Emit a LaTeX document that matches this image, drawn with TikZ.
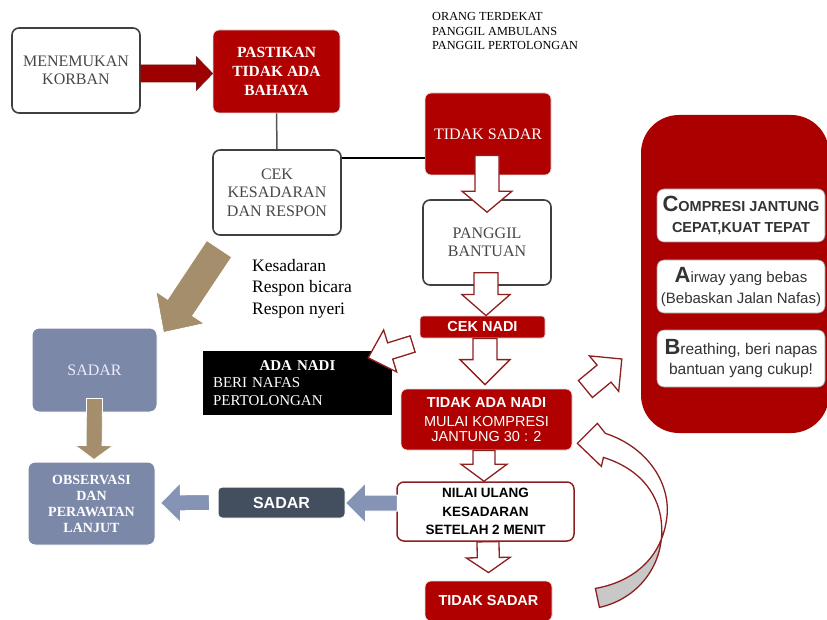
\documentclass[tikz,border=0pt]{standalone}
\usepackage{fontspec}
\setmainfont{Liberation Serif}
\setsansfont{Liberation Sans}
\usetikzlibrary{calc}
\definecolor{cred}{HTML}{B00000}
\definecolor{cpanel}{HTML}{AA0000}
\definecolor{cdred}{HTML}{8E1F1F}
\definecolor{ctext}{HTML}{474747}
\definecolor{cgrayb}{HTML}{404040}
\definecolor{ctan}{HTML}{A48E6B}
\definecolor{cblue}{HTML}{7B88A8}
\definecolor{cbluearr}{HTML}{8594B4}
\definecolor{cdark}{HTML}{434E5E}
\definecolor{ccurve}{HTML}{C8C8C8}
\newcommand\blkarrow[6]{%
  \coordinate (bkC) at ($(#3)!#6!(#2)$);
  \path[#1] ($(#2)!#4!90:(#3)$) -- ($(bkC)!#4!90:(#3)$) -- ($(bkC)!#5!90:(#3)$) -- (#3)
    -- ($(bkC)!#5!-90:(#3)$) -- ($(bkC)!#4!-90:(#3)$) -- ($(#2)!#4!-90:(#3)$) -- cycle;
}
\begin{document}
\begin{tikzpicture}[x=1pt,y=-1pt,
  wbox/.style={draw=cgrayb, line width=1.6pt, fill=white, rounded corners=7pt, align=center,
    text=ctext, font=\fontsize{16}{18.5}\selectfont, inner sep=0pt},
  rbox/.style={fill=cred, draw=black!12, line width=0.8pt, rounded corners=6pt, align=center,
    text=white, inner sep=0pt},
  bbox/.style={fill=cblue, draw=white, line width=1pt, rounded corners=7pt, align=center,
    text=white, inner sep=0pt},
  cabbox/.style={fill=white, draw=black!40, line width=0.6pt, rounded corners=7pt, align=center,
    text=black!80, inner sep=0pt, minimum width=168pt},
  hollow/.style={fill=white, draw=cdred, line width=1.3pt, line join=miter},
  tanarr/.style={fill=ctan, draw=white, line width=0.8pt},
  bluearr/.style={fill=cbluearr, draw=white, line width=1pt},
  redarr/.style={fill=cred!90!black, draw=cdred!80!black, line width=0.8pt},
]
\useasboundingbox (0,0) rectangle (827,620);
\fill[white] (0,0) rectangle (827,620);

% ---------- boxes ----------
\node[wbox, minimum width=128pt, minimum height=85pt] (menem) at (76,70.5) {MENEMUKAN\\KORBAN};
\node[rbox, minimum width=127pt, minimum height=83pt, font=\fontsize{15.5}{19}\selectfont\bfseries] (pastikan) at (276.5,71.5) {PASTIKAN\\TIDAK ADA\\BAHAYA};
\node[wbox, minimum width=128pt, minimum height=85pt] (cek) at (277,192.5) {CEK\\KESADARAN\\DAN RESPON};
\node[rbox, minimum width=126pt, minimum height=82pt, font=\fontsize{16}{19}\selectfont] (tsadar1) at (488,134) {TIDAK SADAR};
\node[wbox, minimum width=128pt, minimum height=85pt] (panggil) at (487,242.5) {PANGGIL\\BANTUAN};
\node[rbox, minimum width=125pt, minimum height=22pt, rounded corners=3pt, font=\sffamily\bfseries\fontsize{14.5}{16}\selectfont] (ceknadi) at (482.5,327) {CEK NADI};
\node[fill=black, minimum width=189pt, minimum height=64pt, text width=169pt, inner sep=0pt, align=left, text=white, font=\fontsize{15}{17.5}\selectfont] (adanadi) at (297.5,383) {\makebox[169pt]{\bfseries ADA NADI}\\BERI NAFAS\\PERTOLONGAN};
\node[rbox, minimum width=171pt, minimum height=61pt, font=\sffamily\fontsize{14.5}{15}\selectfont] (tidakada) at (486.5,419.5) {\raisebox{4pt}{\bfseries TIDAK ADA NADI}\\MULAI KOMPRESI\\JANTUNG 30 : 2};
\node[wbox, draw=cdred, line width=1.5pt, text=black, minimum width=177pt, minimum height=59pt, font=\sffamily\bfseries\fontsize{13.5}{18.5}\selectfont] (nilai) at (485.5,511.5) {NILAI ULANG\\KESADARAN\\SETELAH 2 MENIT};
\node[rbox, minimum width=127pt, minimum height=40pt, font=\sffamily\bfseries\fontsize{14.5}{16}\selectfont] (tsadar2) at (488.5,601) {TIDAK SADAR};
\node[bbox, minimum width=125pt, minimum height=84pt, text=white!92!blue, font=\fontsize{16}{18}\selectfont] (sadarL) at (94.5,370) {SADAR};
\node[bbox, minimum width=127pt, minimum height=83pt, font=\fontsize{14}{16}\selectfont\bfseries] (obs) at (91.5,503.5) {OBSERVASI\\DAN\\PERAWATAN\\LANJUT};
\node[bbox, fill=cdark, rounded corners=4pt, minimum width=127pt, minimum height=31pt, font=\sffamily\bfseries\fontsize{16}{18}\selectfont] (sadarD) at (281.5,502.5) {SADAR};

% ---------- right panel ----------
\node[fill=cpanel, rounded corners=38pt, minimum width=188pt, minimum height=318pt, inner sep=0pt] (panel) at (735,274) {};
\node[cabbox, minimum height=53pt, font=\sffamily\bfseries\fontsize{14.5}{21}\selectfont] (cbox) at (741,215.5) {{\fontsize{22}{22}\selectfont C}OMPRESI JANTUNG\\CEPAT,KUAT TEPAT};
\node[cabbox, minimum height=53pt, font=\sffamily\fontsize{15}{21}\selectfont] (abox) at (741,286.5) {{\fontsize{22}{22}\selectfont\bfseries A}irway yang bebas\\(Bebaskan Jalan Nafas)};
\node[cabbox, minimum height=57pt, font=\sffamily\fontsize{15.5}{20}\selectfont] (bbox) at (741,358.5) {{\fontsize{22}{22}\selectfont\bfseries B}reathing, beri napas\\bantuan yang cukup!};

% ---------- free texts ----------
\node[anchor=north west, inner sep=0pt, align=left, font=\fontsize{12.3}{14.5}\selectfont] (info) at (432,12.5) {ORANG TERDEKAT\\PANGGIL AMBULANS\\PANGGIL PERTOLONGAN};
\node[anchor=north west, inner sep=0pt, align=left, font=\fontsize{17.5}{21.5}\selectfont] (kes) at (252,259) {Kesadaran\\Respon bicara\\Respon nyeri};

% ---------- lines ----------
\draw[cgrayb!90, line width=1.5pt] (pastikan.south) -- (cek.north);
\coordinate (k1) at ($(cek.north east)+(0,9)$);
\draw[black, line width=2.2pt] (k1) -- (k1 -| tsadar1.west);

% ---------- arrows ----------
\coordinate (r1a) at ($(menem.east)+(0,3)$);
\coordinate (r1b) at (r1a -| pastikan.west);
\blkarrow{redarr}{r1a}{r1b}{8.5pt}{16.5pt}{16pt}

\coordinate (h1a) at ($(tsadar1.south)+(-1,-20)$);
\coordinate (h1b) at ($(panggil.north)+(0,13)$);
\blkarrow{hollow}{h1a}{h1b}{12pt}{25pt}{21pt}

\coordinate (h2a) at ($(panggil.south)+(-1,-13)$);
\coordinate (h2b) at ($(ceknadi.north)+(3.5,0)$);
\blkarrow{hollow}{h2a}{h2b}{12pt}{24pt}{21pt}

\coordinate (h3a) at ($(ceknadi.south)+(2.5,0)$);
\coordinate (h3b) at ($(tidakada.north)+(-1.5,-4)$);
\blkarrow{hollow}{h3a}{h3b}{12pt}{25pt}{25pt}

\coordinate (h4a) at ($(ceknadi.west)+(-7,17)$);
\coordinate (h4b) at ($(adanadi.north east)+(-24,7)$);
\blkarrow{hollow}{h4a}{h4b}{8.5pt}{22pt}{23pt}

\coordinate (h5a) at ($(tidakada.east)+(13,-30.5)$);
\coordinate (h5b) at ($(panel.west)+(-19,85)$);
\blkarrow{hollow}{h5a}{h5b}{11pt}{23pt}{23pt}

\coordinate (h6a) at ($(tidakada.south)+(-2.5,0)$);
\coordinate (h6b) at ($(nilai.north)+(-1.5,0)$);
\blkarrow{hollow}{h6a}{h6b}{11pt}{23pt}{17pt}

\coordinate (h7a) at ($(nilai.south)+(2.5,0)$);
\coordinate (h7b) at ($(tsadar2.north)+(0,-8)$);
\blkarrow{hollow}{h7a}{h7b}{11pt}{22pt}{15pt}

\coordinate (b1a) at ($(nilai.west)+(1,-8.5)$);
\coordinate (b1b) at (b1a -| sadarD.east);
\blkarrow{bluearr}{b1a}{b1b}{8pt}{20pt}{20pt}

\coordinate (b2a) at ($(sadarD.west)+(-8,0)$);
\coordinate (b2b) at ($(obs.east)+(5,-0.5)$);
\blkarrow{bluearr}{b2a}{b2b}{8pt}{20pt}{20pt}

\coordinate (t1a) at ($(sadarL.south)+(0,-14)$);
\coordinate (t1b) at ($(obs.north)+(2.5,-2)$);
\blkarrow{tanarr}{t1a}{t1b}{8pt}{19pt}{14pt}

\coordinate (t2a) at ($(cek.south west)+(7,13)$);
\coordinate (t2b) at ($(sadarL.north east)+(6,5)$);
\blkarrow{tanarr}{t2a}{t2b}{15pt}{29pt}{30pt}

% ---------- curved return arrow ----------
\coordinate (cv) at ($(tidakada.south east)+(5,-7)$);
\begin{scope}[shift={(cv)}]
  \def\curvepath{(0,0) -- (20,-20) -- (28,-10)
    .. controls (71,4) and (95,42) .. (89,77)
    .. controls (83,117) and (53,139) .. (18,145)
    -- (22,164)
    .. controls (63,155) and (91,117) .. (83,72)
    .. controls (77,42) and (55,23) .. (26,14)
    -- (24,23) -- cycle}
  \fill[white] \curvepath;
  \begin{scope}
    \clip (0,88) rectangle (130,200);
    \fill[ccurve] \curvepath;
  \end{scope}
  \draw[cdred, line width=1.3pt, line join=miter] \curvepath;
\end{scope}
\end{tikzpicture}
\end{document}
